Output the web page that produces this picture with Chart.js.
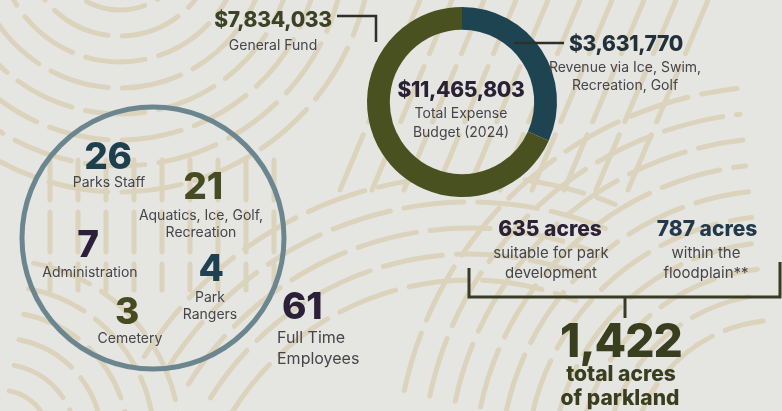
<!DOCTYPE html>
<html>
<head>
<meta charset="utf-8">
<script src="https://cdn.jsdelivr.net/npm/chart.js@4.4.1/dist/chart.umd.min.js"></script>
<style>
  html, body { margin: 0; padding: 0; }
  body { width: 782px; height: 411px; overflow: hidden; background: #e5e5e2; font-family: "Inter", "Open Sans", sans-serif; }
  #wrap { position: relative; width: 782px; height: 411px; }
  #budgetChart { position: absolute; left: 0; top: 0; }
  .t { position: absolute; transform: translate(-50%, -50%); white-space: nowrap; line-height: 1; }
  .l { position: absolute; transform: translate(0, -50%); white-space: nowrap; line-height: 1; }
  .big { font-weight: 800; letter-spacing: -0.3px; }
  .sm { font-size: 14px; color: #45454a; font-weight: 400; }
</style>
</head>
<body>
<div id="wrap">
  <canvas id="budgetChart" width="782" height="411"></canvas>

  <div class="t big" style="left:273px;top:19px;font-size:21px;color:#3c4226">$7,834,033</div>
  <div class="t sm" style="left:273px;top:45px">General Fund</div>

  <div class="t big" style="left:626px;top:43px;font-size:21px;color:#22303a">$3,631,770</div>
  <div class="t sm" style="left:625px;top:67px">Revenue via Ice, Swim,</div>
  <div class="t sm" style="left:625px;top:85px">Recreation, Golf</div>

  <div class="t big" style="left:461px;top:89px;font-size:21px;color:#2b2134">$11,465,803</div>
  <div class="t sm" style="left:461px;top:113px">Total Expense</div>
  <div class="t sm" style="left:461px;top:132px">Budget (2024)</div>

  <div class="t big" style="left:108px;top:155px;font-size:37px;color:#1f3f4c">26</div>
  <div class="t sm" style="left:109px;top:182px">Parks Staff</div>
  <div class="t big" style="left:203px;top:185px;font-size:37px;color:#454c22">21</div>
  <div class="t sm" style="left:201px;top:215px">Aquatics, Ice, Golf,</div>
  <div class="t sm" style="left:201px;top:232px">Recreation</div>
  <div class="t big" style="left:88px;top:243px;font-size:37px;color:#2b1f3a">7</div>
  <div class="t sm" style="left:90px;top:272px">Administration</div>
  <div class="t big" style="left:211px;top:267px;font-size:37px;color:#1f4050">4</div>
  <div class="t sm" style="left:210px;top:297px">Park</div>
  <div class="t sm" style="left:210px;top:314px">Rangers</div>
  <div class="t big" style="left:127px;top:310px;font-size:37px;color:#454c22">3</div>
  <div class="t sm" style="left:130px;top:338px">Cemetery</div>

  <div class="l big" style="left:282px;top:305px;font-size:37px;color:#2b1f3a">61</div>
  <div class="l" style="left:277px;top:337px;font-size:16px;color:#45454a">Full Time</div>
  <div class="l" style="left:277px;top:358px;font-size:16px;color:#45454a">Employees</div>

  <div class="t" style="left:550px;top:228px;font-size:21px;font-weight:800;color:#2b2134">635 acres</div>
  <div class="t" style="left:551px;top:252px;font-size:15px;color:#45454a">suitable for park</div>
  <div class="t" style="left:551px;top:272px;font-size:15px;color:#45454a">development</div>
  <div class="t" style="left:707px;top:228px;font-size:21px;font-weight:800;color:#22394a">787 acres</div>
  <div class="t" style="left:706px;top:252px;font-size:15px;color:#45454a">within the</div>
  <div class="t" style="left:706px;top:272px;font-size:15px;color:#45454a">floodplain**</div>

  <div class="t big" style="left:621px;top:340px;font-size:46px;color:#393e1e;letter-spacing:-1px">1,422</div>
  <div class="t" style="left:621px;top:373px;font-size:21px;font-weight:800;color:#393e1e">total acres</div>
  <div class="t" style="left:620px;top:397px;font-size:21px;font-weight:800;color:#393e1e">of parkland</div>
</div>

<script>
// budget split (2024)
const labels = ["Revenue via Ice, Swim, Recreation, Golf", "General Fund"];
const amounts = [3631770, 7834033];
const colors = ["#1f4451", "#4a5120"];

const BEIGE = "#dcd3bd";

// decorative background: groups of curved stripes
const stripeGroups = [
  { cx: 120, cy: -60, r0: 70, n: 8, a0: 0.15, a1: 2.9 },
  { cx: 780, cy: 470, r0: 150, n: 10, a0: 3.35, a1: 4.6 },
  { cx: 470, cy: 560, r0: 280, n: 5, a0: 3.7, a1: 5.1 },
  { cx: 0, cy: 440, r0: 50, n: 6, a0: 4.9, a1: 6.2 }
];

const background = {
  id: "background",
  beforeDraw(chart) {
    const ctx = chart.ctx;
    ctx.save();
    ctx.fillStyle = "#e5e5e2";
    ctx.fillRect(0, 0, chart.width, chart.height);
    ctx.strokeStyle = BEIGE;
    ctx.lineWidth = 5;
    ctx.lineCap = "round";
    ctx.setLineDash([60, 14]);
    stripeGroups.forEach(g => {
      for (let i = 0; i < g.n; i++) {
        ctx.beginPath();
        ctx.arc(g.cx, g.cy, g.r0 + i * 26, g.a0, g.a1);
        ctx.stroke();
      }
    });
    // diagonal stripes around the ring
    for (let i = 0; i < 10; i++) {
      const x = 340 + i * 32;
      ctx.beginPath();
      ctx.moveTo(x, 190);
      ctx.lineTo(x + 80, 0);
      ctx.stroke();
    }
    // vertical ticks in the left circle
    ctx.setLineDash([40, 12]);
    for (let i = 0; i < 9; i++) {
      const x = 50 + i * 28;
      ctx.beginPath();
      ctx.moveTo(x, 160);
      ctx.lineTo(x, 290);
      ctx.stroke();
    }
    ctx.restore();
  }
};

const decor = {
  id: "decor",
  afterDraw(chart) {
    const ctx = chart.ctx;
    ctx.save();
    // leader lines
    ctx.strokeStyle = "#2e2f2a";
    ctx.lineWidth = 2.5;
    ctx.beginPath();
    ctx.moveTo(337, 16); ctx.lineTo(376, 16); ctx.lineTo(376, 42);
    ctx.moveTo(514, 43); ctx.lineTo(564, 43);
    ctx.stroke();
    // staff circle
    ctx.strokeStyle = "#6c868f";
    ctx.lineWidth = 5;
    ctx.beginPath();
    ctx.arc(153, 238, 131, 0, Math.PI * 2);
    ctx.stroke();
    // acreage bracket
    ctx.strokeStyle = "#393c24";
    ctx.lineWidth = 3;
    ctx.beginPath();
    ctx.moveTo(469, 268); ctx.lineTo(469, 297); ctx.lineTo(780, 297); ctx.lineTo(780, 262);
    ctx.moveTo(625, 297); ctx.lineTo(625, 318);
    ctx.stroke();
    ctx.restore();
  }
};

new Chart(document.getElementById("budgetChart"), {
  type: "doughnut",
  data: {
    labels: labels,
    datasets: [{
      data: amounts,
      backgroundColor: colors,
      borderWidth: 0
    }]
  },
  options: {
    responsive: false,
    animation: false,
    cutout: "76%",
    layout: { padding: { left: 367, right: 225, top: 7, bottom: 214 } },
    plugins: {
      legend: { display: false },
      tooltip: { enabled: false }
    }
  },
  plugins: [background, decor]
});
</script>
</body>
</html>
